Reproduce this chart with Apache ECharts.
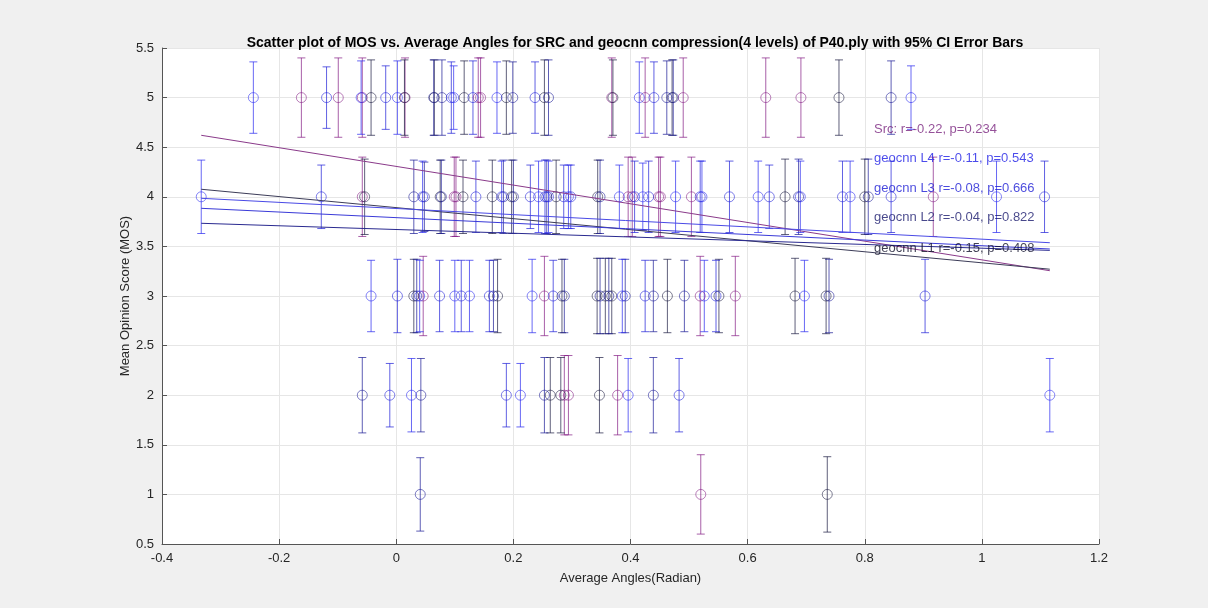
<!DOCTYPE html>
<html>
<head>
<meta charset="utf-8">
<script src="https://cdn.jsdelivr.net/npm/echarts@6/dist/echarts.min.js"></script>
<style>
html,body{margin:0;padding:0;background:#f0f0f0;}
#chart{width:1208px;height:608px;}
</style>
</head>
<body>
<div id="chart"></div>
<script>
// Each point: [average angle (rad), MOS, 95% CI half-width]
const srcPoints = [
  [-0.162,5,0.40],[-0.099,5,0.40],[-0.058,5,0.40],[0.015,5,0.40],[0.140,5,0.40],[0.144,5,0.40],
  [0.368,5,0.40],[0.425,5,0.40],[0.490,5,0.40],[0.631,5,0.40],[0.691,5,0.40],
  [-0.058,4,0.40],[0.099,4,0.40],[0.102,4,0.40],[0.396,4,0.40],[0.403,4,0.40],[0.448,4,0.40],
  [0.451,4,0.40],[0.504,4,0.40],[0.917,4,0.40],
  [0.046,3,0.40],[0.253,3,0.40],[0.519,3,0.40],[0.579,3,0.40],
  [0.287,2,0.40],[0.294,2,0.40],[0.378,2,0.40],
  [0.520,1,0.40]
];
const l1Points = [
  [-0.043,5,0.38],[0.014,5,0.38],[0.065,5,0.38],[0.116,5,0.37],[0.188,5,0.37],[0.253,5,0.38],
  [0.370,5,0.38],[0.471,5,0.38],[0.756,5,0.38],
  [-0.054,4,0.38],[0.075,4,0.37],[0.114,4,0.37],[0.164,4,0.37],[0.197,4,0.37],[0.273,4,0.37],
  [0.344,4,0.37],[0.664,4,0.38],[0.800,4,0.38],
  [0.030,3,0.37],[0.173,3,0.37],[0.283,3,0.37],[0.343,3,0.38],[0.357,3,0.38],[0.368,3,0.38],
  [0.463,3,0.37],[0.551,3,0.37],[0.681,3,0.38],[0.734,3,0.38],
  [0.263,2,0.38],[0.281,2,0.38],[0.347,2,0.38],
  [0.736,1,0.38]
];
const l2Points = [
  [0.064,5,0.38],[0.078,5,0.38],[0.199,5,0.36],[0.260,5,0.38],[0.462,5,0.37],[0.473,5,0.38],[0.845,5,0.37],
  [0.030,4,0.37],[0.048,4,0.35],[0.077,4,0.37],[0.183,4,0.37],[0.200,4,0.37],[0.257,4,0.37],
  [0.348,4,0.37],[0.687,4,0.38],[0.806,4,0.38],
  [0.035,3,0.37],[0.166,3,0.36],[0.287,3,0.37],[0.348,3,0.38],[0.363,3,0.38],[0.391,3,0.37],
  [0.439,3,0.36],[0.492,3,0.36],[0.739,3,0.37],
  [-0.058,2,0.38],[0.042,2,0.37],[0.253,2,0.38],[0.439,2,0.38],
  [0.041,1,0.37]
];
const l3Points = [
  [-0.119,5,0.31],[-0.018,5,0.32],[0.094,5,0.36],[0.131,5,0.37],[0.237,5,0.36],[0.440,5,0.36],
  [-0.128,4,0.32],[0.136,4,0.36],[0.229,4,0.32],[0.254,4,0.37],[0.286,4,0.32],[0.298,4,0.32],
  [0.407,4,0.36],[0.431,4,0.36],[0.519,4,0.36],[0.569,4,0.36],[0.637,4,0.32],[0.762,4,0.36],
  [0.845,4,0.36],[1.107,4,0.36],
  [0.002,3,0.37],[0.074,3,0.36],[0.111,3,0.36],[0.159,3,0.36],[0.268,3,0.36],[0.425,3,0.36],
  [0.546,3,0.36],[0.903,3,0.37],
  [-0.011,2,0.32],[0.188,2,0.32],[0.483,2,0.37]
];
const l4Points = [
  [-0.244,5,0.36],[-0.060,5,0.37],[0.002,5,0.37],[0.098,5,0.32],[0.172,5,0.36],[0.415,5,0.36],[0.879,5,0.32],
  [-0.333,4,0.37],[0.045,4,0.36],[0.180,4,0.36],[0.243,4,0.36],[0.260,4,0.36],[0.294,4,0.32],
  [0.381,4,0.32],[0.421,4,0.34],[0.477,4,0.36],[0.522,4,0.36],[0.618,4,0.36],[0.690,4,0.36],
  [0.775,4,0.36],[1.025,4,0.36],
  [-0.043,3,0.36],[0.040,3,0.36],[0.100,3,0.36],[0.125,3,0.36],[0.232,3,0.37],[0.386,3,0.37],
  [0.526,3,0.36],[0.697,3,0.36],
  [0.026,2,0.37],[0.212,2,0.32],[0.396,2,0.37],[1.116,2,0.37]
];
// Linear fit lines, evaluated at the overall angle range
const fitX = [-0.333, 1.116];
const srcFit = [4.62, 3.255];
const l1Fit = [4.076, 3.27];
const l2Fit = [3.733, 3.46];
const l3Fit = [3.884, 3.474];
const l4Fit = [3.985, 3.537];
// Annotation labels
const annLabels = ['Src: r=-0.22, p=0.234','geocnn L4 r=-0.11, p=0.543','geocnn L3 r=-0.08, p=0.666','geocnn L2 r=-0.04, p=0.822','geocnn L1 r=-0.15, p=0.408'];
const annY = [4.683, 4.39, 4.08, 3.79, 3.48];
const annX = 0.816;
const xTicks = {min:-0.4, max:1.2, interval:0.2};
const yTicks = {min:0.5, max:5.5, interval:0.5};

const groups = [
  {name:'SRC', pts:srcPoints, fit:srcFit, color:'rgba(128,20,128,0.68)', line:'#8a3a8a', text:'#7a2580'},
  {name:'geocnn L1', pts:l1Points, fit:l1Fit, color:'rgba(20,20,60,0.68)', line:'#3c3c58', text:'#10102a'},
  {name:'geocnn L2', pts:l2Points, fit:l2Fit, color:'rgba(25,25,150,0.7)', line:'#2a2a90', text:'#1a1a6e'},
  {name:'geocnn L3', pts:l3Points, fit:l3Fit, color:'rgba(30,30,215,0.7)', line:'#3a3ad8', text:'#1c1cd4'},
  {name:'geocnn L4', pts:l4Points, fit:l4Fit, color:'rgba(40,40,240,0.7)', line:'#4a4ae6', text:'#1e1ee6'}
];

const FONT = 'Liberation Sans, Arial, sans-serif';
const series = [];
groups.forEach(g => {
  series.push({
    type:'custom', name:g.name+' err', silent:true, z:2,
    data:g.pts.map(p => [p[0], p[1]-p[2], p[1]+p[2]]),
    renderItem:(params, api) => {
      const x = api.value(0);
      const a = api.coord([x, api.value(1)]);
      const b = api.coord([x, api.value(2)]);
      const hw = 4;
      const st = {stroke:g.color, lineWidth:1, fill:null};
      return {type:'group', children:[
        {type:'line', shape:{x1:a[0],y1:a[1],x2:b[0],y2:b[1]}, style:st},
        {type:'line', shape:{x1:a[0]-hw,y1:a[1],x2:a[0]+hw,y2:a[1]}, style:st},
        {type:'line', shape:{x1:b[0]-hw,y1:b[1],x2:b[0]+hw,y2:b[1]}, style:st}
      ]};
    }
  });
  series.push({
    type:'scatter', name:g.name, z:3, silent:true,
    data:g.pts.map(p => [p[0], p[1]]),
    symbol:'circle', symbolSize:10,
    itemStyle:{color:'rgba(255,255,255,0)', borderColor:g.color, borderWidth:1}
  });
});
groups.forEach(g => {
  series.push({
    type:'line', name:g.name+' fit', z:4, silent:true,
    data:[[fitX[0], g.fit[0]], [fitX[1], g.fit[1]]],
    symbol:'none', lineStyle:{color:g.line, width:1}
  });
});
const annColors = [groups[0].text, groups[4].text, groups[3].text, groups[2].text, groups[1].text];
series.push({
  type:'scatter', name:'annotations', z:6, silent:true, symbolSize:0,
  data:annLabels.map((t,i) => ({name:t, value:[annX, annY[i]],
    label:{color:annColors[i]}})),
  label:{show:true, position:'right', distance:0, formatter:p => p.name,
    fontFamily:FONT, fontSize:13}
});

const chart = echarts.init(document.getElementById('chart'));
chart.setOption({
  animation:false,
  backgroundColor:'#f0f0f0',
  title:{
    text:'Scatter plot of MOS vs. Average Angles for SRC and geocnn compression(4 levels) of P40.ply with 95% CI Error Bars',
    left:630, textAlign:'center', top:31,
    textStyle:{fontFamily:FONT, fontSize:14, fontWeight:'bold', color:'#000'}
  },
  grid:{left:162, top:48, right:109, bottom:64, show:true, backgroundColor:'#ffffff', borderWidth:0},
  xAxis:{
    type:'value', min:xTicks.min, max:xTicks.max, interval:xTicks.interval,
    name:'Average Angles(Radian)', nameLocation:'middle', nameGap:28,
    nameTextStyle:{fontFamily:FONT, fontSize:13, color:'#262626'},
    axisLine:{show:true, onZero:false, lineStyle:{color:'#555', width:1}},
    axisTick:{show:true, inside:true, length:5, lineStyle:{color:'#555'}},
    axisLabel:{fontFamily:FONT, fontSize:13, color:'#262626', margin:8},
    splitLine:{show:true, lineStyle:{color:'#e6e6e6', width:1}}
  },
  yAxis:{
    type:'value', min:yTicks.min, max:yTicks.max, interval:yTicks.interval,
    name:'Mean Opinion Score (MOS)', nameLocation:'middle', nameGap:30,
    nameMoveOverlap:false,
    nameTextStyle:{fontFamily:FONT, fontSize:13, color:'#262626'},
    axisLine:{show:true, onZero:false, lineStyle:{color:'#555', width:1}},
    axisTick:{show:true, inside:true, length:5, lineStyle:{color:'#555'}},
    axisLabel:{fontFamily:FONT, fontSize:13, color:'#262626', margin:8},
    splitLine:{show:true, lineStyle:{color:'#e6e6e6', width:1}}
  },
  series:series
});
</script>
</body>
</html>
